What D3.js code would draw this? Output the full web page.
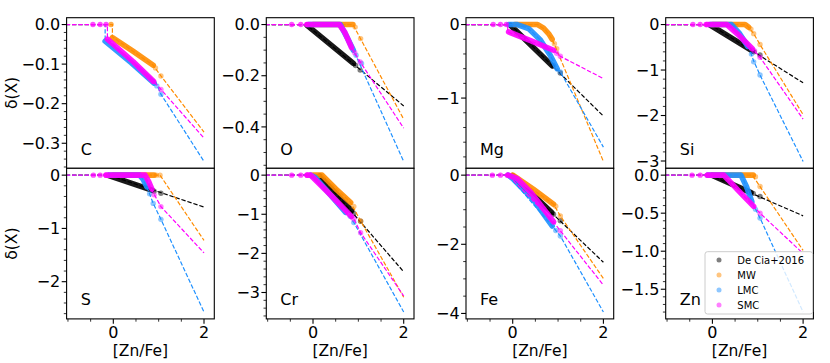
<!DOCTYPE html>
<html><head><meta charset="utf-8">
<script src="https://cdn.jsdelivr.net/npm/d3@7"></script>
<style>body{margin:0;background:#fff}svg{display:block}text{font-family:"DejaVu Sans",sans-serif;fill:#000}</style>
</head><body><svg id="chart" width="830" height="363"></svg>
<script>
// ---------- data ----------
const elements = ["C", "O", "Mg", "Si", "S", "Cr", "Fe", "Zn"];
const seriesNames = ["De Cia+2016", "MW", "LMC", "SMC"];
const xMajorTicks = [0, 2];
const xMinorTicks = [-1, -0.5, 0.5, 1, 1.5];
const yMajorTicks = [
  [0, -0.1, -0.2, -0.3], [0, -0.2, -0.4], [0, -1], [0, -1, -2, -3],
  [0, -1, -2], [0, -1, -2, -3], [0, -2, -4], [0, -0.5, -1, -1.5]
];
const yMinorStep = [0.02, 0.05, 0.2, 0.2, 0.2, 0.2, 0.5, 0.1];
const yTickDecimals = [1, 1, 0, 0, 0, 0, 0, 1];

// dashed relations: [ [Zn/Fe], delta ] vertices, per series (De Cia, MW, LMC, SMC)
const linesC = [
  [],
  [[-1.05,0],[-0.02,0],[-0.02,-0.031],[0.88,-0.103],[1.05,-0.130],[2,-0.272]],
  [[-1.05,0],[-0.18,0],[-0.18,-0.040],[0.96,-0.152],[1.05,-0.176],[2,-0.346]],
  [[-1.05,0],[-0.13,0],[-0.13,-0.036],[0.90,-0.145],[1.05,-0.164],[2,-0.287]]
];
const bandsC = [
  [],
  [[-0.02,-0.033],[0.44,-0.068],[0.88,-0.103]],
  [[-0.18,-0.042],[0.40,-0.097],[0.90,-0.148]],
  [[-0.13,-0.037],[0.44,-0.094],[0.88,-0.143]]
];
const ptsC = [
  [],
  [[-0.05,0],[0.93,-0.11],[1.05,-0.130]],
  [[0.96,-0.155],[1.05,-0.176]],
  [[-0.45,0],[-0.29,0],[-0.16,0],[0.90,-0.145],[1.05,-0.164]]
];

const linesO = [
  [[-1.05,0],[-0.15,0],[2,-0.318]],
  [[-1.05,0],[0.88,0],[2,-0.370]],
  [[-1.05,0],[0.62,0],[0.89,-0.10],[2,-0.535]],
  [[-1.05,0],[0.58,0],[0.85,-0.09],[1.04,-0.146],[2,-0.405]]
];
const bandsO = [
  [[-0.13,-0.003],[0.89,-0.152]],
  [[0.0,0],[0.88,0]],
  [[-0.1,0],[0.60,0],[0.75,-0.05],[0.89,-0.10]],
  [[-0.12,0],[0.58,0],[0.70,-0.03],[0.85,-0.09]]
];
const ptsO = [
  [[0.94,-0.16],[1.04,-0.178]],
  [[0.93,-0.01],[1.05,-0.055]],
  [[0.95,-0.12],[1.07,-0.152]],
  [[-0.47,0],[-0.27,0],[-0.14,0],[0.92,-0.11],[1.04,-0.146]]
];

const linesMg = [
  [[-1.05,0],[-0.05,0],[2,-1.245]],
  [[-1.05,0],[0.55,0],[0.72,-0.07],[0.87,-0.20],[0.94,-0.30],[2,-1.862]],
  [[-1.05,0],[0.10,0],[0.35,-0.055],[0.61,-0.21],[0.83,-0.42],[0.98,-0.60],[1.05,-0.645],[2,-1.667]],
  [[-1.05,0],[-0.11,0],[-0.11,-0.10],[0.90,-0.35],[1.05,-0.432],[2,-0.735]]
];
const bandsMg = [
  [[-0.05,-0.01],[0.87,-0.56]],
  [[0.05,0],[0.55,0],[0.68,-0.05],[0.80,-0.13],[0.87,-0.20]],
  [[-0.09,0],[0.10,0],[0.35,-0.055],[0.61,-0.21],[0.83,-0.42],[0.98,-0.60]],
  [[-0.09,-0.10],[0.38,-0.215],[0.90,-0.35]]
];
const ptsMg = [
  [[0.90,-0.564],[1.05,-0.66]],
  [[0.92,-0.26],[0.97,-0.33]],
  [[1.05,-0.645]],
  [[-0.43,0],[-0.27,0],[-0.14,0],[0.97,-0.39],[1.05,-0.432]]
];

const linesSi = [
  [[-1.05,0],[-0.05,0],[2,-1.28]],
  [[-1.05,0],[0.75,0],[0.91,-0.20],[1.05,-0.44],[2,-1.98]],
  [[-1.05,0],[0.45,0],[0.80,-0.50],[0.91,-0.80],[1.05,-1.11],[2,-3.01]],
  [[-1.05,0],[0.32,0],[0.60,-0.25],[0.90,-0.55],[1.05,-0.72],[2,-2.08]]
];
const bandsSi = [
  [[-0.05,-0.01],[0.88,-0.58]],
  [[0.0,0],[0.72,0],[0.80,-0.06]],
  [[-0.05,0],[0.42,0],[0.60,-0.20],[0.78,-0.48]],
  [[-0.12,0],[0.32,0],[0.60,-0.25],[0.88,-0.53]]
];
const ptsSi = [
  [[0.92,-0.60],[1.05,-0.67]],
  [[0.85,-0.10],[0.91,-0.20],[1.05,-0.44]],
  [[0.86,-0.65],[0.91,-0.82],[1.05,-1.11]],
  [[-0.43,0],[-0.27,0],[-0.14,0],[0.93,-0.58],[1.05,-0.72]]
];

const linesS = [
  [[-1.05,0],[-0.10,0],[2,-0.60]],
  [[-1.05,0],[1.03,0],[2,-1.226]],
  [[-1.05,0],[0.60,0],[0.74,-0.22],[0.88,-0.53],[1.05,-0.83],[2,-2.57]],
  [[-1.05,0],[0.70,0],[0.85,-0.28],[1.05,-0.59],[2,-1.46]]
];
const bandsS = [
  [[-0.10,-0.01],[0.85,-0.28]],
  [[0.0,0],[0.90,0]],
  [[-0.10,0],[0.58,0],[0.66,-0.08],[0.74,-0.22]],
  [[-0.16,0],[0.70,0],[0.78,-0.12],[0.85,-0.26]]
];
const ptsS = [
  [[0.90,-0.30],[1.05,-0.34]],
  [[0.95,0],[1.03,0]],
  [[0.80,-0.35],[0.88,-0.53],[1.05,-0.83]],
  [[-0.44,0],[-0.29,0],[-0.16,0],[0.90,-0.37],[1.05,-0.59]]
];

const linesCr = [
  [[-1.05,0],[0.15,0],[2,-2.47]],
  [[-1.05,0],[0.20,0],[0.83,-0.70],[1.05,-1.17],[2,-3.12]],
  [[-1.05,0],[-0.05,0],[0.72,-0.95],[0.90,-1.21],[2,-3.50]],
  [[-1.05,0],[-0.05,0],[0.90,-1.12],[1.05,-1.47],[2,-3.09]]
];
const bandsCr = [
  [[0.15,-0.02],[0.85,-0.91]],
  [[0.0,0],[0.20,0],[0.50,-0.35],[0.83,-0.70]],
  [[-0.05,0],[0.05,-0.06],[0.72,-0.95]],
  [[-0.13,0],[-0.05,0],[0.40,-0.52],[0.85,-1.06]]
];
const ptsCr = [
  [[0.90,-0.98],[1.05,-1.18]],
  [[0.90,-0.80],[1.05,-1.17]],
  [[0.82,-1.05],[0.90,-1.21]],
  [[-0.47,0],[-0.27,0],[-0.13,0],[0.90,-1.12],[1.05,-1.47]]
];

const linesFe = [
  [[-1.05,0],[-0.01,0],[2,-2.52]],
  [[-1.05,0],[0.0,0],[0.90,-0.84],[1.05,-1.18],[2,-2.99]],
  [[-1.05,0],[-0.10,0],[0.87,-1.47],[1.05,-1.76],[2,-3.96]],
  [[-1.05,0],[-0.10,0],[0.90,-1.35],[1.05,-1.61],[2,-3.18]]
];
const bandsFe = [
  [[0.0,-0.02],[0.86,-1.08]],
  [[0.0,0],[0.45,-0.40],[0.90,-0.84]],
  [[-0.10,0],[0.0,-0.10],[0.45,-0.70],[0.87,-1.47]],
  [[-0.10,0],[0.10,-0.10],[0.40,-0.50],[0.90,-1.35]]
];
const ptsFe = [
  [[0.90,-1.13],[1.05,-1.32]],
  [[0.95,-0.90],[1.05,-1.18]],
  [[0.95,-1.60],[1.05,-1.76]],
  [[-0.45,0],[-0.27,0],[-0.12,0],[1.05,-1.61]]
];

const linesZn = [
  [[-1.05,0],[-0.05,0],[2,-0.535]],
  [[-1.05,0],[0.88,0],[2,-0.99]],
  [[-1.05,0],[0.65,0],[0.87,-0.35],[1.05,-0.565],[2,-1.80]],
  [[-1.05,0],[0.25,0],[0.91,-0.41],[1.05,-0.50],[2,-1.03]]
];
const bandsZn = [
  [[0.0,-0.005],[0.85,-0.23]],
  [[0.0,0],[0.90,0]],
  [[-0.10,0],[0.63,0],[0.75,-0.15],[0.87,-0.35]],
  [[-0.10,0],[0.25,0],[0.60,-0.22],[0.91,-0.41]]
];
const ptsZn = [
  [[0.90,-0.24],[1.05,-0.28]],
  [[0.95,-0.02],[1.05,-0.15]],
  [[0.95,-0.45],[1.05,-0.565]],
  [[-0.45,0],[-0.27,0],[-0.12,0],[1.05,-0.50]]
];

// ---------- style / layout ----------
const colors = ["#000000", "#ff8c00", "#1e90ff", "#ff00ff"];
const panelData = [
  {lines: linesC, bands: bandsC, pts: ptsC},
  {lines: linesO, bands: bandsO, pts: ptsO},
  {lines: linesMg, bands: bandsMg, pts: ptsMg},
  {lines: linesSi, bands: bandsSi, pts: ptsSi},
  {lines: linesS, bands: bandsS, pts: ptsS},
  {lines: linesCr, bands: bandsCr, pts: ptsCr},
  {lines: linesFe, bands: bandsFe, pts: ptsFe},
  {lines: linesZn, bands: bandsZn, pts: ptsZn}
];
const L0 = 66.6, DX = 199.7, W = 147.7, T0 = 17.7, H = 150.6;
const xDomain = [-1.03, 2.227];
const tickFont = 16, labelFont = 16, axisFont = 15.5, legendFont = 10;
const majorLen = 4.9, minorLen = 2.8;

const svg = d3.select("#chart");
const defs = svg.append("defs");

elements.forEach((el, i) => {
  const r = Math.floor(i / 4), c = i % 4;
  const x0 = L0 + c * DX, y0 = T0 + r * H;
  const d = panelData[i];
  const allY = d.lines.flat().map(p => p[1]);
  const ymin = d3.min(allY), ymax = d3.max(allY);
  const span = ymax - ymin;
  const x = d3.scaleLinear().domain(xDomain).range([x0, x0 + W]);
  const y = d3.scaleLinear().domain([ymin - 0.05 * span, ymax + 0.05 * span]).range([y0 + H, y0]);

  const g = svg.append("g");
  g.append("rect").attr("x", x0).attr("y", y0).attr("width", W).attr("height", H).attr("fill", "#fff");

  defs.append("clipPath").attr("id", "clip" + i).append("rect")
    .attr("x", x0).attr("y", y0).attr("width", W).attr("height", H);
  const content = g.append("g").attr("clip-path", `url(#clip${i})`);
  const line = d3.line().x(p => x(p[0])).y(p => y(p[1]));

  for (let s = 0; s < 4; s++) {
    if (d.lines[s].length === 0) continue;
    content.append("path").attr("d", line(d.bands[s]))
      .attr("fill", "none").attr("stroke", colors[s]).attr("stroke-width", 5.6)
      .attr("stroke-linecap", "round").attr("stroke-linejoin", "round").attr("stroke-opacity", 0.9);
    content.selectAll(null).data(d.pts[s]).enter().append("circle")
      .attr("cx", p => x(p[0])).attr("cy", p => y(p[1])).attr("r", 2.7)
      .attr("fill", colors[s]).attr("fill-opacity", p => p[1] === 0 && p[0] < 0 ? 0.7 : 0.5);
    content.append("path").attr("d", line(d.lines[s]))
      .attr("fill", "none").attr("stroke", colors[s]).attr("stroke-width", 1.2)
      .attr("stroke-dasharray", "4.4,1.9");
  }

  // spines
  g.append("rect").attr("x", x0).attr("y", y0).attr("width", W).attr("height", H)
    .attr("fill", "none").attr("stroke", "#000").attr("stroke-width", 1.1);

  // y ticks
  const yd = y.domain();
  const majors = yMajorTicks[i];
  const step = yMinorStep[i];
  const minors = d3.range(Math.ceil(yd[0] / step), Math.floor(yd[1] / step) + 1)
    .map(k => +(k * step).toFixed(6))
    .filter(v => !majors.some(m => Math.abs(m - v) < 1e-6));
  const fmt = d3.format("." + yTickDecimals[i] + "f");
  majors.forEach(v => {
    g.append("line").attr("x1", x0 - majorLen).attr("x2", x0).attr("y1", y(v)).attr("y2", y(v))
      .attr("stroke", "#000").attr("stroke-width", 1.1);
    g.append("text").attr("x", x0 - 6.3).attr("y", y(v)).attr("dy", "0.36em")
      .attr("text-anchor", "end").attr("font-size", tickFont).text(fmt(v));
  });
  minors.forEach(v => {
    g.append("line").attr("x1", x0 - minorLen).attr("x2", x0).attr("y1", y(v)).attr("y2", y(v))
      .attr("stroke", "#000").attr("stroke-width", 0.8);
  });

  // x ticks (bottom row shows labels; top row ticks hidden by panels below)
  const yb = y0 + H;
  xMajorTicks.forEach(v => {
    g.append("line").attr("x1", x(v)).attr("x2", x(v)).attr("y1", yb).attr("y2", yb + majorLen)
      .attr("stroke", "#000").attr("stroke-width", 1.1);
    if (r === 1) g.append("text").attr("x", x(v)).attr("y", yb + 19.4)
      .attr("text-anchor", "middle").attr("font-size", tickFont).text(d3.format("d")(v));
  });
  xMinorTicks.forEach(v => {
    g.append("line").attr("x1", x(v)).attr("x2", x(v)).attr("y1", yb).attr("y2", yb + minorLen)
      .attr("stroke", "#000").attr("stroke-width", 0.8);
  });

  // element label
  g.append("text").attr("x", x0 + 0.095 * W).attr("y", y0 + H - 0.09 * H)
    .attr("font-size", labelFont).text(el);

  if (r === 1) {
    g.append("text").attr("x", x0 + W / 2).attr("y", 355.5).attr("text-anchor", "middle")
      .attr("font-size", axisFont).text("[Zn/Fe]");
  }
  if (c === 0) {
    g.append("text").attr("transform", `translate(17,${y0 + H / 2}) rotate(-90)`)
      .attr("text-anchor", "middle").attr("font-size", axisFont).text("δ(X)");
  }

  // legend in last panel
  if (i === 7) {
    const lg = svg.append("g");
    lg.append("rect").attr("x", 705).attr("y", 251.7).attr("width", 107.7).attr("height", 62.3)
      .attr("rx", 2.5).attr("fill", "#fff").attr("fill-opacity", 0.8)
      .attr("stroke", "#cccccc").attr("stroke-width", 1);
    seriesNames.forEach((nm, s) => {
      const yy = 260 + s * 15;
      lg.append("circle").attr("cx", 719).attr("cy", yy).attr("r", 2.5)
        .attr("fill", colors[s]).attr("fill-opacity", 0.5);
      lg.append("text").attr("x", 737.3).attr("y", yy).attr("dy", "0.36em")
        .attr("font-size", legendFont).text(nm);
    });
  }
});
</script></body></html>
